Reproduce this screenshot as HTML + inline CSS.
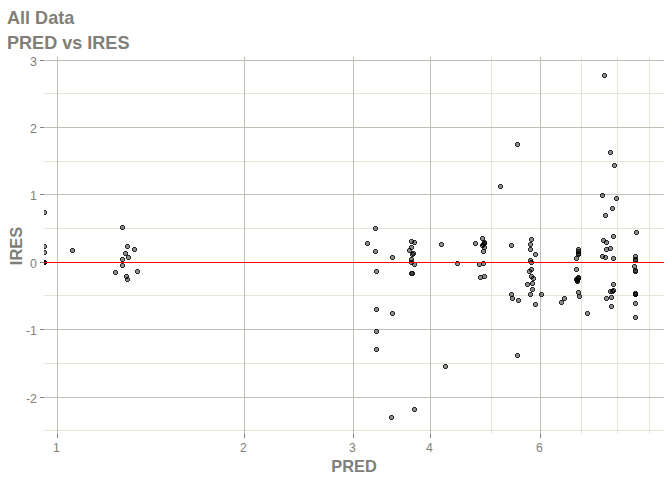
<!DOCTYPE html><html><head><meta charset="utf-8"><title>PRED vs IRES</title><style>html,body{margin:0;padding:0;background:#fff}svg{display:block}text{font-family:"Liberation Sans",Arial,sans-serif;fill:#808078}</style></head><body>
<svg width="672" height="480" viewBox="0 0 672 480">
<rect width="672" height="480" fill="#fff"/>
<defs><clipPath id="c"><rect x="44" y="57" width="620" height="377"/></clipPath>
<g id="p"><rect x="-1.5" y="-1.5" width="3" height="3" fill-opacity="0.46"/><path d="M-1.5-2.5h3v1h-3zM-1.5 1.5h3v1h-3zM-2.5-1.5h1v3h-1zM1.5-1.5h1v3h-1z" fill-opacity="0.83"/></g></defs>
<g shape-rendering="crispEdges">
<rect x="44" y="93" width="620" height="1" fill="#E6E6D8"/>
<rect x="44" y="161" width="620" height="1" fill="#E6E6D8"/>
<rect x="44" y="228" width="620" height="1" fill="#E6E6D8"/>
<rect x="44" y="295" width="620" height="1" fill="#E6E6D8"/>
<rect x="44" y="363" width="620" height="1" fill="#E6E6D8"/>
<rect x="44" y="430" width="620" height="1" fill="#E6E6D8"/>
<rect x="491" y="57" width="1" height="377" fill="#E6E6D8"/>
<rect x="581" y="57" width="1" height="377" fill="#E6E6D8"/>
<rect x="617" y="57" width="1" height="377" fill="#E6E6D8"/>
<rect x="649" y="57" width="1" height="377" fill="#E6E6D8"/>
<rect x="44" y="60" width="620" height="1" fill="#BFBFB4"/>
<rect x="44" y="127" width="620" height="1" fill="#BFBFB4"/>
<rect x="44" y="194" width="620" height="1" fill="#BFBFB4"/>
<rect x="44" y="262" width="620" height="1" fill="#BFBFB4"/>
<rect x="44" y="329" width="620" height="1" fill="#BFBFB4"/>
<rect x="44" y="397" width="620" height="1" fill="#BFBFB4"/>
<rect x="57" y="57" width="1" height="377" fill="#BFBFB4"/>
<rect x="244" y="57" width="1" height="377" fill="#BFBFB4"/>
<rect x="353" y="57" width="1" height="377" fill="#BFBFB4"/>
<rect x="430" y="57" width="1" height="377" fill="#BFBFB4"/>
<rect x="540" y="57" width="1" height="377" fill="#BFBFB4"/>
<g clip-path="url(#c)" fill="#000">
<use href="#p" x="44.5" y="212.5"/>
<use href="#p" x="44.5" y="246.5"/>
<use href="#p" x="44.5" y="252.5"/>
<use href="#p" x="44.5" y="262.5"/>
<use href="#p" x="44.5" y="262.5"/>
<use href="#p" x="44.5" y="262.5"/>
<use href="#p" x="44.5" y="262.5"/>
<use href="#p" x="72.5" y="250.5"/>
<use href="#p" x="122.5" y="227.5"/>
<use href="#p" x="127.5" y="246.5"/>
<use href="#p" x="134.5" y="249.5"/>
<use href="#p" x="125.5" y="253.5"/>
<use href="#p" x="128.5" y="257.5"/>
<use href="#p" x="122.5" y="259.5"/>
<use href="#p" x="122.5" y="265.5"/>
<use href="#p" x="115.5" y="272.5"/>
<use href="#p" x="137.5" y="271.5"/>
<use href="#p" x="126.5" y="276.5"/>
<use href="#p" x="127.5" y="279.5"/>
<use href="#p" x="375.5" y="228.5"/>
<use href="#p" x="367.5" y="243.5"/>
<use href="#p" x="375.5" y="251.5"/>
<use href="#p" x="392.5" y="257.5"/>
<use href="#p" x="376.5" y="271.5"/>
<use href="#p" x="411.5" y="241.5"/>
<use href="#p" x="414.5" y="242.5"/>
<use href="#p" x="411.5" y="247.5"/>
<use href="#p" x="409.5" y="250.5"/>
<use href="#p" x="413.5" y="253.5"/>
<use href="#p" x="412.5" y="254.5"/>
<use href="#p" x="411.5" y="259.5"/>
<use href="#p" x="411.5" y="262.5"/>
<use href="#p" x="414.5" y="264.5"/>
<use href="#p" x="411.5" y="273.5"/>
<use href="#p" x="412.5" y="273.5"/>
<use href="#p" x="441.5" y="244.5"/>
<use href="#p" x="457.5" y="263.5"/>
<use href="#p" x="376.5" y="309.5"/>
<use href="#p" x="392.5" y="313.5"/>
<use href="#p" x="376.5" y="331.5"/>
<use href="#p" x="376.5" y="349.5"/>
<use href="#p" x="445.5" y="366.5"/>
<use href="#p" x="414.5" y="409.5"/>
<use href="#p" x="391.5" y="417.5"/>
<use href="#p" x="604.5" y="75.5"/>
<use href="#p" x="517.5" y="144.5"/>
<use href="#p" x="500.5" y="186.5"/>
<use href="#p" x="610.5" y="152.5"/>
<use href="#p" x="614.5" y="165.5"/>
<use href="#p" x="602.5" y="195.5"/>
<use href="#p" x="616.5" y="198.5"/>
<use href="#p" x="612.5" y="208.5"/>
<use href="#p" x="605.5" y="215.5"/>
<use href="#p" x="482.5" y="238.5"/>
<use href="#p" x="475.5" y="243.5"/>
<use href="#p" x="484.5" y="242.5"/>
<use href="#p" x="483.5" y="244.5"/>
<use href="#p" x="484.5" y="243.5"/>
<use href="#p" x="482.5" y="245.5"/>
<use href="#p" x="484.5" y="247.5"/>
<use href="#p" x="483.5" y="251.5"/>
<use href="#p" x="483.5" y="263.5"/>
<use href="#p" x="479.5" y="264.5"/>
<use href="#p" x="484.5" y="276.5"/>
<use href="#p" x="480.5" y="277.5"/>
<use href="#p" x="511.5" y="245.5"/>
<use href="#p" x="531.5" y="239.5"/>
<use href="#p" x="530.5" y="244.5"/>
<use href="#p" x="530.5" y="249.5"/>
<use href="#p" x="535.5" y="254.5"/>
<use href="#p" x="530.5" y="260.5"/>
<use href="#p" x="531.5" y="262.5"/>
<use href="#p" x="531.5" y="269.5"/>
<use href="#p" x="529.5" y="271.5"/>
<use href="#p" x="531.5" y="276.5"/>
<use href="#p" x="533.5" y="278.5"/>
<use href="#p" x="532.5" y="283.5"/>
<use href="#p" x="527.5" y="284.5"/>
<use href="#p" x="532.5" y="289.5"/>
<use href="#p" x="530.5" y="294.5"/>
<use href="#p" x="541.5" y="294.5"/>
<use href="#p" x="511.5" y="294.5"/>
<use href="#p" x="512.5" y="298.5"/>
<use href="#p" x="518.5" y="300.5"/>
<use href="#p" x="535.5" y="304.5"/>
<use href="#p" x="517.5" y="355.5"/>
<use href="#p" x="564.5" y="298.5"/>
<use href="#p" x="561.5" y="302.5"/>
<use href="#p" x="636.5" y="232.5"/>
<use href="#p" x="613.5" y="236.5"/>
<use href="#p" x="603.5" y="240.5"/>
<use href="#p" x="606.5" y="242.5"/>
<use href="#p" x="610.5" y="248.5"/>
<use href="#p" x="606.5" y="249.5"/>
<use href="#p" x="578.5" y="249.5"/>
<use href="#p" x="578.5" y="251.5"/>
<use href="#p" x="578.5" y="253.5"/>
<use href="#p" x="578.5" y="254.5"/>
<use href="#p" x="576.5" y="258.5"/>
<use href="#p" x="576.5" y="269.5"/>
<use href="#p" x="578.5" y="277.5"/>
<use href="#p" x="576.5" y="279.5"/>
<use href="#p" x="577.5" y="281.5"/>
<use href="#p" x="577.5" y="279.5"/>
<use href="#p" x="578.5" y="278.5"/>
<use href="#p" x="577.5" y="280.5"/>
<use href="#p" x="578.5" y="292.5"/>
<use href="#p" x="579.5" y="296.5"/>
<use href="#p" x="602.5" y="256.5"/>
<use href="#p" x="605.5" y="257.5"/>
<use href="#p" x="613.5" y="258.5"/>
<use href="#p" x="613.5" y="284.5"/>
<use href="#p" x="613.5" y="290.5"/>
<use href="#p" x="610.5" y="291.5"/>
<use href="#p" x="612.5" y="291.5"/>
<use href="#p" x="611.5" y="297.5"/>
<use href="#p" x="606.5" y="298.5"/>
<use href="#p" x="611.5" y="306.5"/>
<use href="#p" x="587.5" y="313.5"/>
<use href="#p" x="635.5" y="256.5"/>
<use href="#p" x="635.5" y="259.5"/>
<use href="#p" x="635.5" y="260.5"/>
<use href="#p" x="634.5" y="266.5"/>
<use href="#p" x="635.5" y="270.5"/>
<use href="#p" x="635.5" y="271.5"/>
<use href="#p" x="635.5" y="294.5"/>
<use href="#p" x="635.5" y="293.5"/>
<use href="#p" x="635.5" y="294.5"/>
<use href="#p" x="635.5" y="303.5"/>
<use href="#p" x="635.5" y="317.5"/>
</g>
<rect x="44" y="262" width="620" height="1" fill="#ff0000"/>
<rect x="40" y="60" width="4" height="1" fill="#808078"/>
<rect x="40" y="127" width="4" height="1" fill="#808078"/>
<rect x="40" y="194" width="4" height="1" fill="#808078"/>
<rect x="40" y="262" width="4" height="1" fill="#808078"/>
<rect x="40" y="329" width="4" height="1" fill="#808078"/>
<rect x="40" y="397" width="4" height="1" fill="#808078"/>
<rect x="57" y="434" width="1" height="4" fill="#808078"/>
<rect x="244" y="434" width="1" height="4" fill="#808078"/>
<rect x="353" y="434" width="1" height="4" fill="#808078"/>
<rect x="430" y="434" width="1" height="4" fill="#808078"/>
<rect x="540" y="434" width="1" height="4" fill="#808078"/>
</g>
<text x="37" y="65.80" font-size="12.4" text-anchor="end">3</text>
<text x="37" y="132.80" font-size="12.4" text-anchor="end">2</text>
<text x="37" y="199.80" font-size="12.4" text-anchor="end">1</text>
<text x="37" y="267.80" font-size="12.4" text-anchor="end">0</text>
<text x="37" y="334.80" font-size="12.4" text-anchor="end">-1</text>
<text x="37" y="402.80" font-size="12.4" text-anchor="end">-2</text>
<text y="451.9" x="56.40" font-size="12.2" text-anchor="middle">1</text>
<text y="451.9" x="243.40" font-size="12.2" text-anchor="middle">2</text>
<text y="451.9" x="352.40" font-size="12.2" text-anchor="middle">3</text>
<text y="451.9" x="429.40" font-size="12.2" text-anchor="middle">4</text>
<text y="451.9" x="539.40" font-size="12.2" text-anchor="middle">6</text>
<text x="7" y="23.7" font-size="18.07" font-weight="bold">All Data</text>
<text x="7" y="48.6" font-size="18.07" font-weight="bold">PRED vs IRES</text>
<text x="354" y="471.7" font-size="16.4" font-weight="bold" text-anchor="middle">PRED</text>
<text transform="translate(22,246) rotate(-90)" font-size="16.4" font-weight="bold" text-anchor="middle">IRES</text>
</svg></body></html>
